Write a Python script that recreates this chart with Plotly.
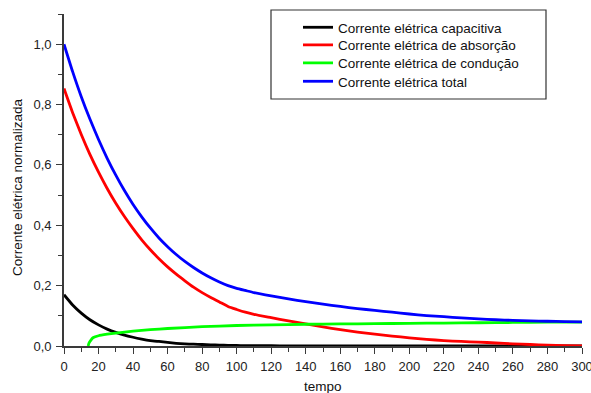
import plotly.graph_objects as go

# ---- data ----
t = [0, 5, 10, 15, 20, 25, 30, 35, 40, 45, 50, 55, 60, 65, 70, 75, 80, 85, 90, 95,
     100, 105, 110, 120, 130, 140, 150, 160, 170, 180, 190, 200, 210, 220, 230,
     240, 250, 260, 270, 280, 290, 300]

capacitiva = [0.170, 0.136, 0.109, 0.087, 0.070, 0.056, 0.045, 0.036, 0.029, 0.023,
              0.018, 0.015, 0.012, 0.009, 0.007, 0.006, 0.005, 0.004, 0.003, 0.002,
              0.002, 0.001, 0.001, 0.001, 0.000, 0.000, 0.000, 0.000, 0.000, 0.000,
              0.000, 0.000, 0.000, 0.000, 0.000, 0.000, 0.000, 0.000, 0.000, 0.000,
              0.000, 0.000]

absorcao = [0.853, 0.773, 0.701, 0.635, 0.576, 0.522, 0.473, 0.429, 0.389, 0.352,
            0.319, 0.289, 0.262, 0.238, 0.216, 0.195, 0.177, 0.161, 0.146, 0.131,
            0.121, 0.112, 0.105, 0.094, 0.083, 0.073, 0.063, 0.054, 0.046, 0.039,
            0.033, 0.027, 0.022, 0.018, 0.015, 0.013, 0.010, 0.007, 0.005, 0.003,
            0.001, 0.000]

total = [1.000, 0.909, 0.826, 0.752, 0.684, 0.622, 0.566, 0.515, 0.469, 0.428,
         0.391, 0.358, 0.329, 0.303, 0.280, 0.260, 0.242, 0.226, 0.212, 0.200,
         0.191, 0.184, 0.177, 0.166, 0.156, 0.147, 0.139, 0.131, 0.124, 0.118,
         0.112, 0.106, 0.101, 0.097, 0.093, 0.090, 0.087, 0.085, 0.083, 0.082,
         0.081, 0.080]

t_conducao = [14, 14.5, 15.5, 17, 20, 25, 30, 40, 50, 60, 80, 100, 120, 140, 160,
              180, 200, 220, 240, 260, 280, 300]
conducao = [0.000, 0.010, 0.019, 0.028, 0.034, 0.039, 0.043, 0.049, 0.054, 0.058,
            0.064, 0.068, 0.070, 0.072, 0.073, 0.074, 0.075, 0.076, 0.077, 0.078,
            0.079, 0.079]

names = ["Corrente elétrica capacitiva", "Corrente elétrica de absorção",
         "Corrente elétrica de condução", "Corrente elétrica total"]
colors = ["#000000", "#ff0000", "#00ff00", "#0000ff"]

y_tickvals = [0.0, 0.2, 0.4, 0.6, 0.8, 1.0]
y_ticktext = ["0,0", "0,2", "0,4", "0,6", "0,8", "1,0"]
x_tickvals = [0, 20, 40, 60, 80, 100, 120, 140, 160, 180, 200, 220, 240, 260, 280, 300]
x_title = "tempo"
y_title = "Corrente elétrica normalizada"

FONT = "Liberation Sans, Arial, sans-serif"

# plot-area geometry (pixels) used to place paper-referenced items
L, R, T, B = 64, 582, 14, 346
PW, PH = R - L, B - T

fig = go.Figure()
series = [(t, capacitiva), (t, absorcao), (t_conducao, conducao), (t, total)]
legend_ids = ["legend", "legend2", "legend3", "legend4"]
for (xs, ys), name, c, lg in zip(series, names, colors, legend_ids):
    fig.add_trace(go.Scatter(x=xs, y=ys, mode="lines", name=name, legend=lg,
                             line=dict(color=c, width=2.8, shape="spline", smoothing=0.5)))

axis_common = dict(showgrid=False, zeroline=False, showline=True, linecolor="#3a3a3a",
                   linewidth=1.6, ticks="outside", ticklen=6, tickwidth=1.3,
                   tickcolor="#3a3a3a", ticklabeloverflow="allow",
                   tickfont=dict(family=FONT, size=13, color="#222"))

entry_centers = [26, 43.5, 61.5, 80]
legends = {}
for lg, yc in zip(legend_ids, entry_centers):
    legends[lg] = dict(x=(298 - L) / PW, xanchor="left", y=(B - (yc - 14)) / PH, yanchor="top",
                       bgcolor="rgba(0,0,0,0)", borderwidth=0,
                       font=dict(family=FONT, size=13.5, color="#111"))

fig.update_layout(
    width=591, height=393,
    margin=dict(l=L, r=591 - R, t=T, b=393 - B),
    paper_bgcolor="white", plot_bgcolor="white",
    font=dict(family=FONT, size=13, color="#222"),
    xaxis=dict(range=[0, 300], tickmode="array", tickvals=x_tickvals,
               ticklabelstandoff=2,
               minor=dict(dtick=10, tick0=0, ticks="outside", ticklen=4, tickcolor="#3a3a3a", tickwidth=1.2),
               automargin=False, **axis_common),
    yaxis=dict(range=[0, 1.1], tickmode="array", tickvals=y_tickvals, ticktext=y_ticktext,
               ticklabelstandoff=2,
               minor=dict(dtick=0.1, tick0=0, ticks="outside", ticklen=4, tickcolor="#3a3a3a", tickwidth=1.2),
               automargin=False, **axis_common),
    showlegend=True,
    **legends,
)

# axis titles
fig.add_annotation(text=x_title, xref="paper", yref="paper",
                   x=0.5, y=(B - 386) / PH, xanchor="center", yanchor="middle",
                   showarrow=False, font=dict(family=FONT, size=13.5, color="#111"))
fig.add_annotation(text=y_title, xref="paper", yref="paper", textangle=-90,
                   x=(17 - L) / PW, y=(B - 187) / PH, xanchor="center", yanchor="middle",
                   showarrow=False, font=dict(family=FONT, size=13.5, color="#111"))

fig.add_shape(type="rect", xref="paper", yref="paper",
              x0=(271 - L) / PW, x1=(546 - L) / PW,
              y0=(B - 99) / PH, y1=(B - 10) / PH,
              line=dict(color="#333", width=1.2), fillcolor="white", layer="below")

fig.write_html("out.html")
